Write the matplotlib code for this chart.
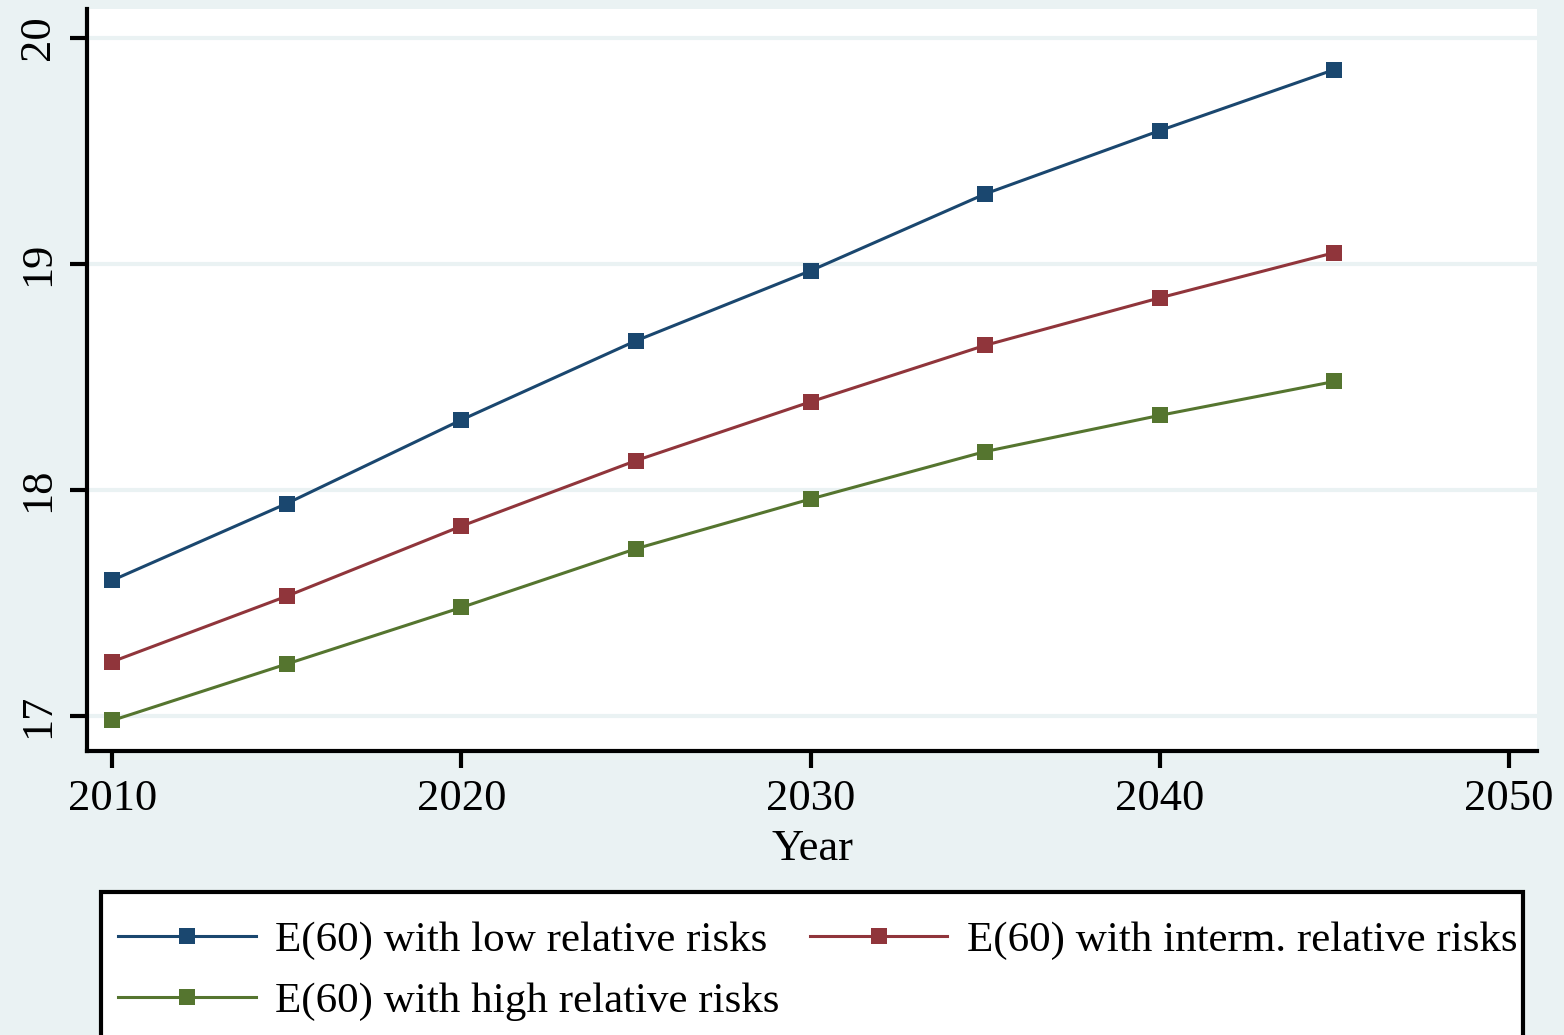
import matplotlib
matplotlib.use("Agg")
import matplotlib.pyplot as plt
from matplotlib.patches import Rectangle

# Life expectancy at age 60 under three relative-risk assumptions
years = [2010, 2015, 2020, 2025, 2030, 2035, 2040, 2045]
e60_low = [17.60, 17.94, 18.31, 18.66, 18.97, 19.31, 19.59, 19.86]
e60_interm = [17.24, 17.53, 17.84, 18.13, 18.39, 18.64, 18.85, 19.05]
e60_high = [16.98, 17.23, 17.48, 17.74, 17.96, 18.17, 18.33, 18.48]

labels = ["E(60) with low relative risks",
          "E(60) with interm. relative risks",
          "E(60) with high relative risks"]
x_ticks = [2010, 2020, 2030, 2040, 2050]
y_ticks = [17, 18, 19, 20]

bg = "#eaf2f3"
navy = "#1a476f"
maroon = "#90353b"
forest = "#55752f"

plt.rcParams["font.family"] = ["Liberation Serif", "DejaVu Serif"]

W, H = 1564, 1035
fig = plt.figure(figsize=(W / 100, H / 100), dpi=100, facecolor=bg)
ax = fig.add_axes([87 / W, 1 - 751 / H, (1537 - 87) / W, (751 - 9) / H])
ax.set_facecolor("white")

for yt in y_ticks:
    ax.axhline(yt, color=bg, lw=3, zorder=0)

style = dict(marker="s", markersize=12, lw=2.2, markeredgewidth=0)
l_low, = ax.plot(years, e60_low, color=navy, label=labels[0], **style)
l_int, = ax.plot(years, e60_interm, color=maroon, label=labels[1], **style)
l_high, = ax.plot(years, e60_high, color=forest, label=labels[2], **style)

ax.set_xlim(2009.28, 2050.8)
ax.set_ylim(16.845, 20.128)
ax.set_xticks(x_ticks)
ax.set_yticks(y_ticks)
ax.set_yticklabels([str(v) for v in y_ticks], rotation=90, va="center")

for side in ("top", "right"):
    ax.spines[side].set_visible(False)
for side in ("left", "bottom"):
    ax.spines[side].set_linewidth(3)
    ax.spines[side].set_color("black")

ax.tick_params(axis="both", length=12, width=3, labelsize=32, colors="black")
ax.tick_params(axis="y", pad=9)
ax.tick_params(axis="x", pad=8)
ax.set_xlabel("Year", fontsize=32, labelpad=7)

# legend box at the bottom, running off the lower edge of the figure
box = Rectangle((101 / W, -0.05), 1422 / W, 0.05 + 1 - 892 / H,
                transform=fig.transFigure, facecolor="white",
                edgecolor="black", lw=3, zorder=1)
fig.patches.append(box)

leg = fig.legend(handles=[l_low, l_high, l_int], ncol=2,
                 loc="upper left",
                 bbox_to_anchor=(118 / W, 1 - 921 / H),
                 fontsize=31, frameon=False,
                 handlelength=3.2, handletextpad=0.45, borderpad=0,
                 labelspacing=0.5, columnspacing=0.7, borderaxespad=0)
leg.set_zorder(2)

fig.savefig("out.png", dpi=100, facecolor=bg)
